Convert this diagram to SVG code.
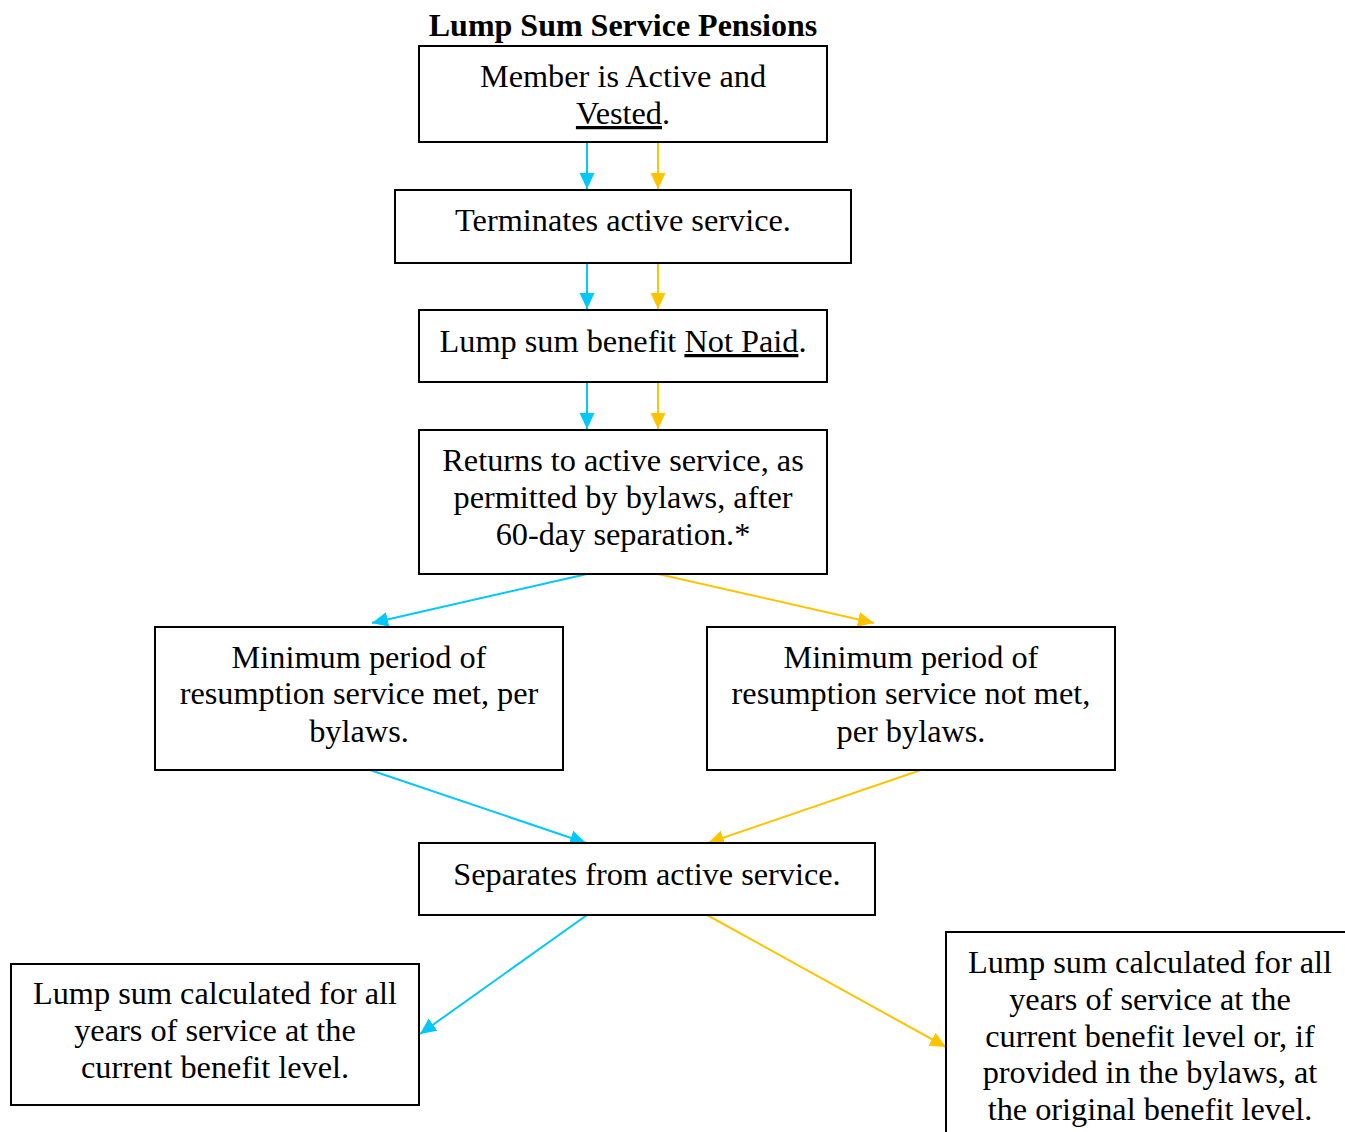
<svg xmlns="http://www.w3.org/2000/svg" width="1345" height="1132" viewBox="0 0 1345 1132">
<defs>
<style>
text{font-family:"Liberation Serif","Times New Roman",serif;font-size:32.3px;fill:#000;text-anchor:middle}
.title{font-weight:bold;font-size:32px}
.box{fill:#fff;stroke:#000;stroke-width:2}
.c{stroke:#00C8F8;stroke-width:2;fill:none}
.y{stroke:#FFC400;stroke-width:2;fill:none}
.u{text-decoration:underline}
</style>
<marker id="ac" markerWidth="18" markerHeight="18" refX="16" refY="9" orient="auto" markerUnits="userSpaceOnUse"><path d="M0,1.5 L16,9 L0,16.5 z" fill="#00C8F8"/></marker>
<marker id="ay" markerWidth="18" markerHeight="18" refX="16" refY="9" orient="auto" markerUnits="userSpaceOnUse"><path d="M0,1.5 L16,9 L0,16.5 z" fill="#FFC400"/></marker>
</defs>
<rect width="1345" height="1132" fill="#fff"/>
<text class="title" x="623" y="36">Lump Sum Service Pensions</text>
<g id="connectors">
<line class="c" x1="587" y1="142" x2="587" y2="189" marker-end="url(#ac)"/>
<line class="y" x1="658" y1="142" x2="658" y2="189" marker-end="url(#ay)"/>
<line class="c" x1="587" y1="263" x2="587" y2="309" marker-end="url(#ac)"/>
<line class="y" x1="658" y1="263" x2="658" y2="309" marker-end="url(#ay)"/>
<line class="c" x1="587" y1="382" x2="587" y2="429" marker-end="url(#ac)"/>
<line class="y" x1="658" y1="382" x2="658" y2="429" marker-end="url(#ay)"/>
<line class="c" x1="587" y1="574" x2="372" y2="623" marker-end="url(#ac)"/>
<line class="y" x1="658" y1="574" x2="874" y2="623" marker-end="url(#ay)"/>
<line class="c" x1="370" y1="770" x2="586" y2="843" marker-end="url(#ac)"/>
<line class="y" x1="921" y1="770" x2="708" y2="843" marker-end="url(#ay)"/>
<line class="c" x1="587" y1="915" x2="420" y2="1034" marker-end="url(#ac)"/>
<line class="y" x1="707" y1="915" x2="946" y2="1047" marker-end="url(#ay)"/>
</g>
<g id="n1"><rect class="box" x="419" y="46" width="408" height="96"/>
<text x="623" y="87">Member is Active and</text>
<text x="623" y="124"><tspan class="u">Vested</tspan>.</text></g>
<g id="n2"><rect class="box" x="395" y="190" width="456" height="73"/>
<text x="623" y="231">Terminates active service.</text></g>
<g id="n3"><rect class="box" x="419" y="310" width="408" height="72"/>
<text x="623" y="352">Lump sum benefit <tspan class="u">Not Paid</tspan>.</text></g>
<g id="n4"><rect class="box" x="419" y="430" width="408" height="144"/>
<text x="623" y="471">Returns to active service, as</text>
<text x="623" y="508">permitted by bylaws, after</text>
<text x="623" y="545">60-day separation.*</text></g>
<g id="n5"><rect class="box" x="155" y="627" width="408" height="143"/>
<text x="359" y="668">Minimum period of</text>
<text x="359" y="704">resumption service met, per</text>
<text x="359" y="742">bylaws.</text></g>
<g id="n6"><rect class="box" x="707" y="627" width="408" height="143"/>
<text x="911" y="668">Minimum period of</text>
<text x="911" y="704">resumption service not met,</text>
<text x="911" y="742">per bylaws.</text></g>
<g id="n7"><rect class="box" x="419" y="843" width="456" height="72"/>
<text x="647" y="885">Separates from active service.</text></g>
<g id="n8"><rect class="box" x="11" y="964" width="408" height="141"/>
<text x="215" y="1004">Lump sum calculated for all</text>
<text x="215" y="1041">years of service at the</text>
<text x="215" y="1078">current benefit level.</text></g>
<g id="n9"><rect class="box" x="946" y="932" width="410" height="210"/>
<text x="1150" y="973">Lump sum calculated for all</text>
<text x="1150" y="1010">years of service at the</text>
<text x="1150" y="1047">current benefit level or, if</text>
<text x="1150" y="1083">provided in the bylaws, at</text>
<text x="1150" y="1120">the original benefit level.</text></g>
</svg>
